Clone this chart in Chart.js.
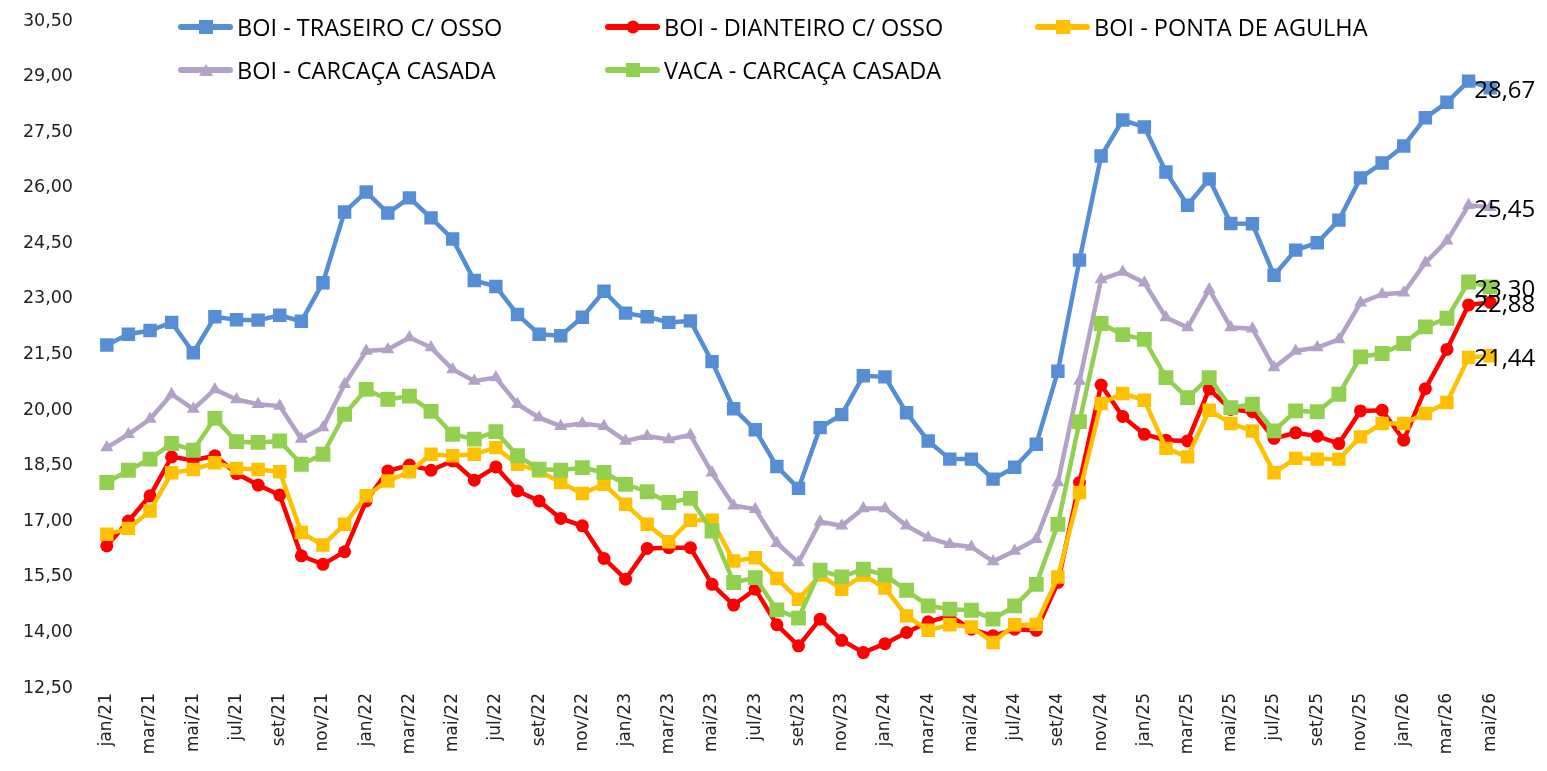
<!DOCTYPE html>
<html lang="pt-BR">
<head>
<meta charset="utf-8">
<title>Preços carne bovina</title>
<script src="https://cdn.jsdelivr.net/npm/chart.js@4.4.1/dist/chart.umd.min.js"></script>
<style>
  html, body { margin: 0; padding: 0; background: #fff; }
  #wrap { position: relative; width: 1547px; height: 771px; }
  #chart { position: absolute; left: 0; top: 0; }
  .leg-item { position: absolute; display: flex; align-items: center; height: 30px;
              font-family: 'Open Sans', 'Liberation Sans', sans-serif; font-size: 23.5px; color: #000; white-space: nowrap; }
  .leg-mark { position: relative; width: 55px; height: 30px; margin-right: 4px; }
  .leg-line { position: absolute; left: 0; right: 0; top: 12px; height: 6px; border-radius: 3px; }
  .leg-shape { position: absolute; left: 50%; top: 50%; transform: translate(-50%, -50%); }
</style>
</head>
<body>
<div id="wrap">
  <canvas id="chart" width="1547" height="771"></canvas>
</div>
<script>
// month labels jan/21 .. mai/26
const months = [
  'jan/21','fev/21','mar/21','abr/21','mai/21','jun/21','jul/21','ago/21','set/21','out/21','nov/21','dez/21',
  'jan/22','fev/22','mar/22','abr/22','mai/22','jun/22','jul/22','ago/22','set/22','out/22','nov/22','dez/22',
  'jan/23','fev/23','mar/23','abr/23','mai/23','jun/23','jul/23','ago/23','set/23','out/23','nov/23','dez/23',
  'jan/24','fev/24','mar/24','abr/24','mai/24','jun/24','jul/24','ago/24','set/24','out/24','nov/24','dez/24',
  'jan/25','fev/25','mar/25','abr/25','mai/25','jun/25','jul/25','ago/25','set/25','out/25','nov/25','dez/25',
  'jan/26','fev/26','mar/26','abr/26','mai/26'
];

const traseiro = [
  21.73, 22.02, 22.12, 22.34, 21.52, 22.49, 22.41, 22.40, 22.53, 22.37,
  23.41, 25.32, 25.86, 25.29, 25.70, 25.16, 24.59, 23.47, 23.31, 22.55,
  22.02, 21.98, 22.48, 23.18, 22.59, 22.49, 22.34, 22.38, 21.28, 20.01,
  19.44, 18.45, 17.86, 19.50, 19.85, 20.90, 20.87, 19.90, 19.14, 18.65,
  18.65, 18.11, 18.43, 19.05, 21.02, 24.02, 26.83, 27.80, 27.61, 26.40,
  25.50, 26.21, 25.01, 25.00, 23.61, 24.29, 24.49, 25.10, 26.24, 26.64,
  27.10, 27.86, 28.28, 28.85, 28.67
];

const dianteiro = [
  16.31, 16.98, 17.66, 18.71, 18.62, 18.74, 18.26, 17.95, 17.68, 16.04,
  15.81, 16.15, 17.52, 18.33, 18.49, 18.35, 18.60, 18.08, 18.44, 17.79,
  17.52, 17.05, 16.85, 15.97, 15.41, 16.24, 16.26, 16.26, 15.27, 14.71,
  15.14, 14.18, 13.61, 14.33, 13.76, 13.43, 13.67, 13.97, 14.26, 14.42,
  14.06, 13.88, 14.06, 14.03, 15.32, 18.02, 20.65, 19.80, 19.32, 19.16,
  19.14, 20.54, 19.99, 19.93, 19.21, 19.36, 19.27, 19.07, 19.95, 19.97,
  19.16, 20.55, 21.61, 22.81, 22.88
];

const pontaAgulha = [
  16.62, 16.78, 17.25, 18.28, 18.37, 18.55, 18.40, 18.37, 18.31, 16.67,
  16.33, 16.89, 17.66, 18.06, 18.31, 18.78, 18.74, 18.78, 18.96, 18.51,
  18.33, 18.02, 17.72, 17.97, 17.43, 16.89, 16.42, 17.00, 17.00, 15.90,
  15.99, 15.43, 14.87, 15.52, 15.14, 15.52, 15.17, 14.42, 14.03, 14.18,
  14.12, 13.70, 14.18, 14.19, 15.47, 17.75, 20.15, 20.42, 20.24, 18.94,
  18.71, 19.97, 19.61, 19.41, 18.28, 18.67, 18.65, 18.65, 19.25, 19.61,
  19.61, 19.88, 20.18, 21.39, 21.44
];

const boiCarcaca = [
  18.96, 19.32, 19.73, 20.40, 20.00, 20.53, 20.26, 20.13, 20.08, 19.19,
  19.50, 20.67, 21.57, 21.61, 21.93, 21.66, 21.07, 20.76, 20.85, 20.13,
  19.77, 19.54, 19.61, 19.54, 19.14, 19.27, 19.18, 19.30, 18.28, 17.39,
  17.30, 16.38, 15.86, 16.96, 16.85, 17.32, 17.32, 16.85, 16.53, 16.35,
  16.28, 15.89, 16.17, 16.49, 18.02, 20.76, 23.50, 23.70, 23.41, 22.47,
  22.20, 23.23, 22.20, 22.17, 21.12, 21.57, 21.66, 21.88, 22.87, 23.10,
  23.14, 23.95, 24.54, 25.50, 25.45
];

const vacaCarcaca = [
  18.02, 18.35, 18.65, 19.07, 18.89, 19.75, 19.12, 19.10, 19.14, 18.51,
  18.78, 19.86, 20.53, 20.26, 20.35, 19.94, 19.32, 19.19, 19.39, 18.74,
  18.38, 18.35, 18.42, 18.29, 17.97, 17.77, 17.48, 17.59, 16.71, 15.32,
  15.45, 14.58, 14.36, 15.65, 15.47, 15.68, 15.52, 15.11, 14.69, 14.60,
  14.57, 14.33, 14.69, 15.27, 16.89, 19.66, 22.31, 22.01, 21.88, 20.85,
  20.31, 20.85, 20.04, 20.13, 19.41, 19.95, 19.93, 20.40, 21.41, 21.50,
  21.77, 22.22, 22.45, 23.43, 23.30
];

const seriesNames = ['BOI - TRASEIRO C/ OSSO', 'BOI - DIANTEIRO C/ OSSO', 'BOI - PONTA DE AGULHA',
                     'BOI - CARCAÇA CASADA', 'VACA - CARCAÇA CASADA'];
const seriesValues = [traseiro, dianteiro, pontaAgulha, boiCarcaca, vacaCarcaca];
const seriesColors = ['#558ED5', '#FF0000', '#FFC000', '#B3A2C7', '#92D050'];
const seriesPoints = ['rect', 'circle', 'rect', 'triangle', 'rect'];
const pointSizes = [9.5, 6.5, 9.5, 7.5, 10.5];

const yMin = 12.5, yMax = 30.5, yStep = 1.5;

const fmt = v => v.toFixed(2).replace('.', ',');

// legend position (Excel-like columns)
const legendCols = [178, 605, 1035];
const legendRows = [12, 55];

const wrap = document.getElementById('wrap');
seriesNames.forEach((name, i) => {
  const item = document.createElement('div');
  item.className = 'leg-item';
  item.style.left = legendCols[i % 3] + 'px';
  item.style.top = legendRows[Math.floor(i / 3)] + 'px';
  const mark = document.createElement('span');
  mark.className = 'leg-mark';
  const line = document.createElement('span');
  line.className = 'leg-line';
  line.style.background = seriesColors[i];
  mark.appendChild(line);
  const shape = document.createElement('span');
  shape.className = 'leg-shape';
  if (seriesPoints[i] === 'circle') {
    shape.style.cssText += 'width:13px;height:13px;border-radius:50%;background:' + seriesColors[i];
  } else if (seriesPoints[i] === 'triangle') {
    shape.style.cssText += 'width:0;height:0;border-left:7px solid transparent;border-right:7px solid transparent;border-bottom:12px solid ' + seriesColors[i];
  } else {
    shape.style.cssText += 'width:14px;height:14px;background:' + seriesColors[i];
  }
  mark.appendChild(shape);
  const txt = document.createElement('span');
  txt.textContent = name;
  item.appendChild(mark);
  item.appendChild(txt);
  wrap.appendChild(item);
});

// value label on the last point of each line
const lastLabels = {
  id: 'lastLabels',
  afterDatasetsDraw(chart) {
    const ctx = chart.ctx;
    ctx.save();
    ctx.font = "24px 'Open Sans', 'Liberation Sans', sans-serif";
    ctx.fillStyle = '#000';
    ctx.textAlign = 'left';
    ctx.textBaseline = 'middle';
    chart.data.datasets.forEach((ds, i) => {
      const meta = chart.getDatasetMeta(i);
      const n = ds.data.length - 1;
      const pt = meta.data[n];
      ctx.fillText(fmt(ds.data[n]), pt.x - 16, pt.y + 3);
    });
    ctx.restore();
  }
};

const datasets = seriesNames.map((name, i) => ({
  label: name,
  data: seriesValues[i],
  borderColor: seriesColors[i],
  backgroundColor: seriesColors[i],
  borderWidth: 4.5,
  pointStyle: seriesPoints[i],
  pointRadius: pointSizes[i],
  pointBorderWidth: 0,
  pointBackgroundColor: seriesColors[i],
  tension: 0,
  fill: false,
  order: seriesNames.length - i
}));

new Chart(document.getElementById('chart'), {
  type: 'line',
  data: { labels: months, datasets: datasets },
  options: {
    responsive: false,
    animation: false,
    layout: { padding: { top: 20, right: 46, left: 0, bottom: 0 } },
    plugins: {
      legend: { display: false },
      tooltip: { enabled: false }
    },
    scales: {
      x: {
        offset: true,
        grid: { display: false, drawTicks: false },
        border: { display: false },
        afterFit: s => { s.height = 84; },
        ticks: {
          autoSkip: false,
          minRotation: 90,
          maxRotation: 90,
          padding: 6,
          color: '#222',
          font: { family: "'DejaVu Sans', sans-serif", size: 17 },
          callback: (v, i) => (i % 2 === 0 ? months[i] : '')
        }
      },
      y: {
        min: yMin,
        max: yMax,
        grid: { display: false, drawTicks: false },
        border: { display: false },
        afterFit: s => { s.width = 96; s.paddingTop = 0; s.paddingBottom = 0; },
        ticks: {
          stepSize: yStep,
          padding: 23,
          labelOffset: 1,
          color: '#222',
          font: { family: "'DejaVu Sans', sans-serif", size: 17.5 },
          callback: v => fmt(v)
        }
      }
    }
  },
  plugins: [lastLabels]
});
</script>
</body>
</html>
